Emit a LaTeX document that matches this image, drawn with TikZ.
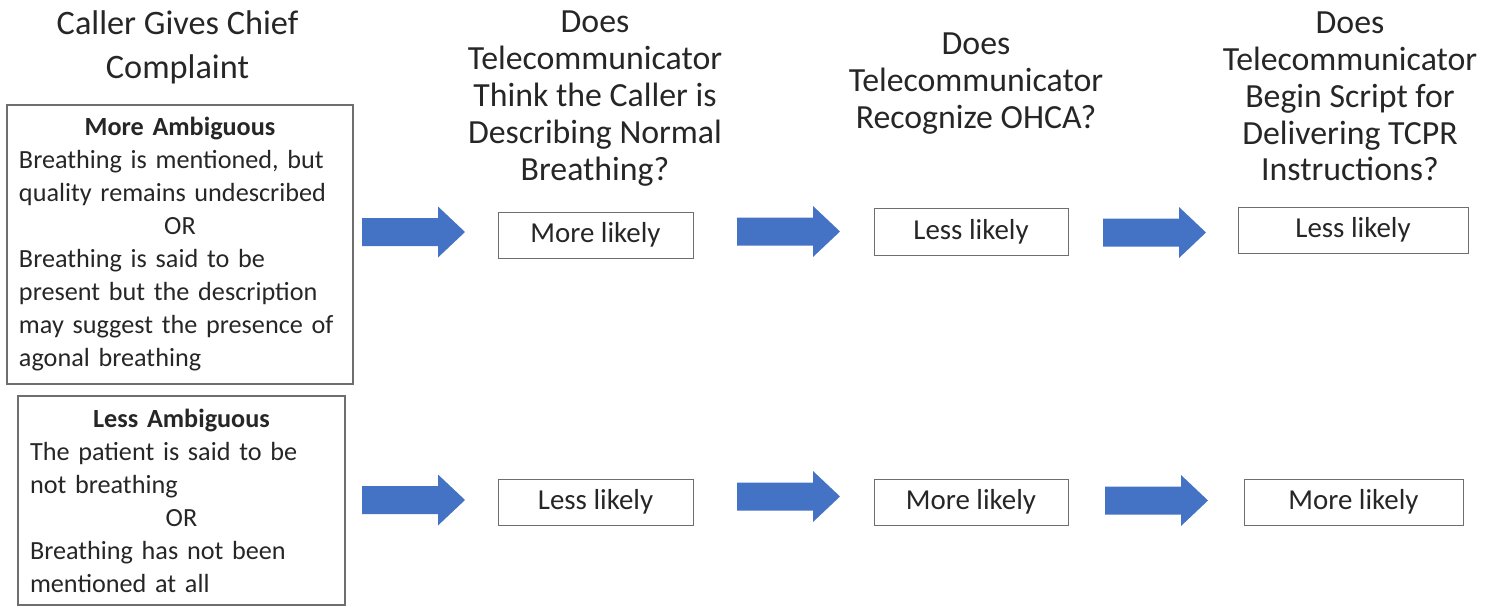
\documentclass[tikz,border=0pt]{standalone}
\usepackage{fontspec}
\setmainfont{Carlito}
\definecolor{txt}{RGB}{38,38,38}
\definecolor{boxgray}{RGB}{110,110,110}
\definecolor{arrowblue}{RGB}{68,114,196}
\newcommand{\blockarrow}[3]{%
  \fill[arrowblue] (#1,#2-14) -- (#1+76,#2-14) -- (#1+76,#2-25.5) -- (#1+103,#2)
    -- (#1+76,#2+25.5) -- (#1+76,#2+14) -- (#1,#2+14) -- cycle;
  \coordinate (#3) at (#1+51,#2);}
\begin{document}
\begin{tikzpicture}[x=1pt,y=-1pt,
  title/.style={align=center, font=\fontsize{33.8}{36.8}\selectfont, text=txt, inner sep=0},
  bigbox/.style={draw=boxgray, line width=1.3pt, inner sep=0, font=\fontsize{26.2}{33}\selectfont, text=txt, align=left},
  likely/.style={draw=boxgray, line width=1pt, inner sep=0, font=\fontsize{28.9}{34}\selectfont, text=txt}]
\useasboundingbox (0,0) rectangle (1497,607);

% column titles
\node[title, font=\fontsize{34.3}{44}\selectfont] (t1) at (177.5,47) {Caller Gives Chief\\Complaint};
\node[title] (t2) at (595,98.5) {Does\\Telecommunicator\\Think the Caller is\\Describing Normal\\Breathing?};
\node[title] (t3) at (976,83.5) {Does\\Telecommunicator\\Recognize OHCA?};
\node[title] (t4) at (1350,96.5) {Does\\Telecommunicator\\Begin Script for\\Delivering TCPR\\Instructions?};

% left boxes
\node[bigbox, minimum width=346, minimum height=279, text width=322] (b1) at (180,244.5)
 {\makebox[\linewidth]{\bfseries More Ambiguous}\\
  Breathing is mentioned, but\\
  quality remains undescribed\\
  \makebox[\linewidth]{OR}\\
  Breathing is said to be\\
  present but the description\\
  may suggest the presence of\\
  agonal breathing};
\node[bigbox, minimum width=327, minimum height=209, text width=303] (b2) at (181.5,500.5)
 {\makebox[\linewidth]{\bfseries Less Ambiguous}\\
  The patient is said to be\\
  not breathing\\
  \makebox[\linewidth]{OR}\\
  Breathing has not been\\
  mentioned at all};

% block arrows
\blockarrow{362}{232}{a11}
\blockarrow{737}{231.5}{a12}
\blockarrow{1103}{232.5}{a13}
\blockarrow{362}{500}{a21}
\blockarrow{737}{496.5}{a22}
\blockarrow{1105}{500.5}{a23}

% outcome boxes
\node[likely, minimum width=195, minimum height=46] (r1c2) at (595.5,235) {More likely};
\node[likely, minimum width=194, minimum height=47] (r1c3) at (971,231.5) {Less likely};
\node[likely, minimum width=230, minimum height=46] (r1c4) at (1353,230) {Less likely};
\node[likely, minimum width=195, minimum height=46] (r2c2) at (595.5,502) {Less likely};
\node[likely, minimum width=194, minimum height=46] (r2c3) at (971,502) {More likely};
\node[likely, minimum width=219, minimum height=46] (r2c4) at (1353.5,502) {More likely};
\end{tikzpicture}
\end{document}
